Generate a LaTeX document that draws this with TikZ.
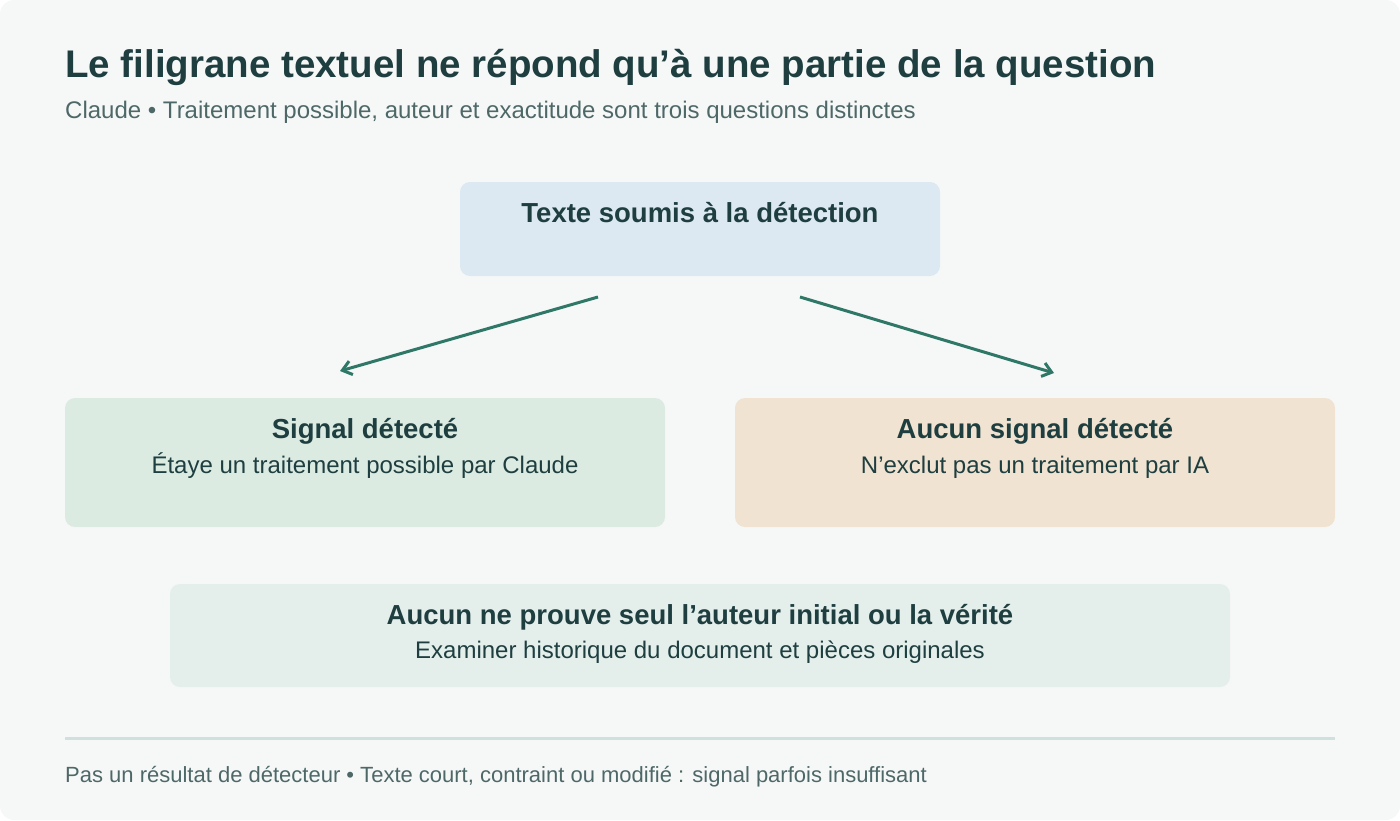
\documentclass[tikz,border=0pt]{standalone}
\usepackage{fontspec}
\setmainfont{Liberation Sans}
\usetikzlibrary{arrows.meta}
\definecolor{bg}{HTML}{F6F8F7}
\definecolor{ink}{HTML}{1E3E40}
\definecolor{sub}{HTML}{4E6868}
\definecolor{arr}{HTML}{2F7868}
\definecolor{cblue}{HTML}{DCE9F2}
\definecolor{cgreen}{HTML}{DCEBE2}
\definecolor{cbeige}{HTML}{F0E3D1}
\definecolor{cpale}{HTML}{E4EFEC}
\definecolor{rule}{HTML}{CFE0DE}
\begin{document}
\begin{tikzpicture}[x=1pt,y=-1pt,every node/.style={inner sep=0pt},
  box/.style={rounded corners=10pt,draw=none},
  ttl/.style={text=ink,font=\fontsize{27.5}{32}\selectfont\bfseries,anchor=base},
  body/.style={text=ink,font=\fontsize{24}{28}\selectfont,anchor=base},
  con/.style={draw=arr,line width=3pt,-{Straight Barb[length=9pt,width=14pt]}}]
\useasboundingbox (0,0) rectangle (1400,820);
\fill[bg,rounded corners=14pt] (0,0) rectangle (1400,820);
\node[anchor=base west,text=ink,font=\fontsize{38.5}{44}\selectfont\bfseries] (title) at (65,77) {Le filigrane textuel ne répond qu’à une partie de la question};
\node[anchor=base west,text=sub,font=\fontsize{24}{28}\selectfont] (subt) at (65,118) {Claude • Traitement possible, auteur et exactitude sont trois questions distinctes};
\fill[box,cblue] (460,182) rectangle (940,276);
\node[ttl] (top) at (700,222) {Texte soumis à la détection};
\fill[box,cgreen] (65,398) rectangle (665,527);
\node[ttl] (lt) at (365,438) {Signal détecté};
\node[body] (lb) at (365,473) {Étaye un traitement possible par Claude};
\fill[box,cbeige] (735,398) rectangle (1335,527);
\node[ttl] (rt) at (1035,438) {Aucun signal détecté};
\node[body] (rb) at (1035,473) {N’exclut pas un traitement par IA};
\fill[box,cpale] (170,584) rectangle (1230,687);
\node[ttl] (bt) at (700,624) {Aucun ne prouve seul l’auteur initial ou la vérité};
\node[body] (bb) at (700,658) {Examiner historique du document et pièces originales};
\coordinate (a1) at (598,297); \coordinate (a2) at (340,371);
\coordinate (b1) at (800,297); \coordinate (b2) at (1054,373);
\draw[con] (a1) -- (a2);
\draw[con] (b1) -- (b2);
\draw[rule,line width=3pt] (65,738) -- (1335,738);
\node[anchor=base west,text=sub,font=\fontsize{22}{26}\selectfont] (foot) at (65,782) {Pas un résultat de détecteur • Texte court, contraint ou modifié : signal parfois insuffisant};
\end{tikzpicture}
\end{document}
